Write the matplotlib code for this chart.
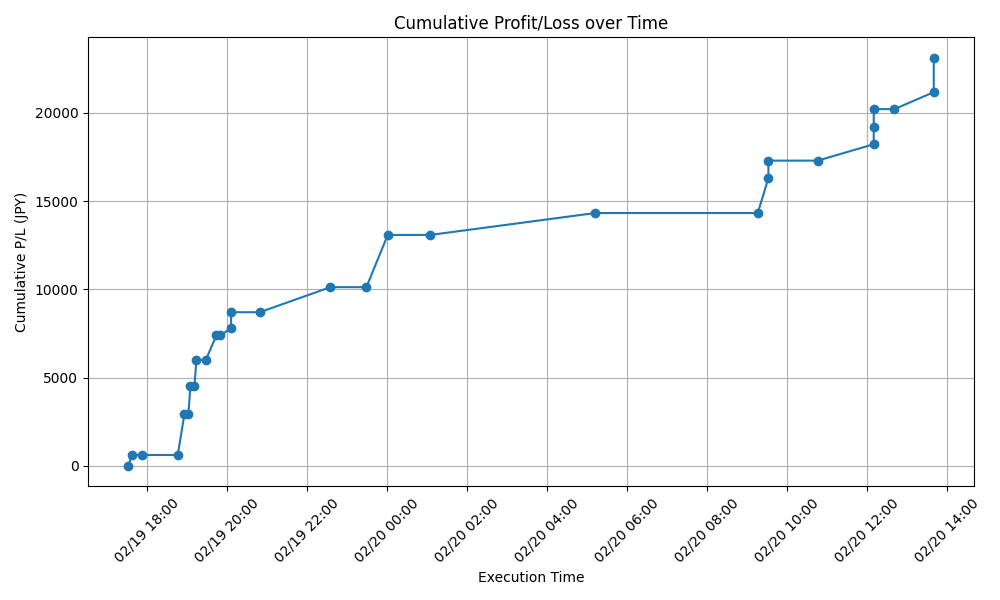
import matplotlib
matplotlib.use("Agg")
import matplotlib.pyplot as plt
import matplotlib.dates as mdates
import pandas as pd

times = [
    "2024-02-19 17:32", "2024-02-19 17:37", "2024-02-19 17:53", "2024-02-19 18:46",
    "2024-02-19 18:56", "2024-02-19 19:02", "2024-02-19 19:05", "2024-02-19 19:11",
    "2024-02-19 19:14", "2024-02-19 19:28", "2024-02-19 19:44", "2024-02-19 19:50",
    "2024-02-19 20:06", "2024-02-19 20:06", "2024-02-19 20:49", "2024-02-19 22:35",
    "2024-02-19 23:29", "2024-02-20 00:01", "2024-02-20 01:05", "2024-02-20 05:12",
    "2024-02-20 09:16", "2024-02-20 09:32", "2024-02-20 09:32", "2024-02-20 10:46",
    "2024-02-20 12:10", "2024-02-20 12:10", "2024-02-20 12:10", "2024-02-20 12:41",
    "2024-02-20 13:40", "2024-02-20 13:40",
]
cum_pl = [
    0, 620, 620, 620,
    2930, 2930, 4530, 4530,
    6000, 6000, 7400, 7400,
    7800, 8710, 8710, 10130,
    10130, 13090, 13090, 14330,
    14330, 16300, 17300, 17300,
    18230, 19200, 20220, 20220,
    21180, 23130,
]

t = pd.to_datetime(times)

fig, ax = plt.subplots(figsize=(10, 6), dpi=100)
ax.plot(t, cum_pl, marker="o", linestyle="-", color="#1f77b4")
ax.set_title("Cumulative Profit/Loss over Time")
ax.set_xlabel("Execution Time")
ax.set_ylabel("Cumulative P/L (JPY)")
ax.xaxis.set_major_locator(mdates.HourLocator(interval=2))
ax.xaxis.set_major_formatter(mdates.DateFormatter("%m/%d %H:%M"))
plt.setp(ax.get_xticklabels(), rotation=45)
ax.grid(True)
fig.tight_layout()
fig.savefig("out.png")
